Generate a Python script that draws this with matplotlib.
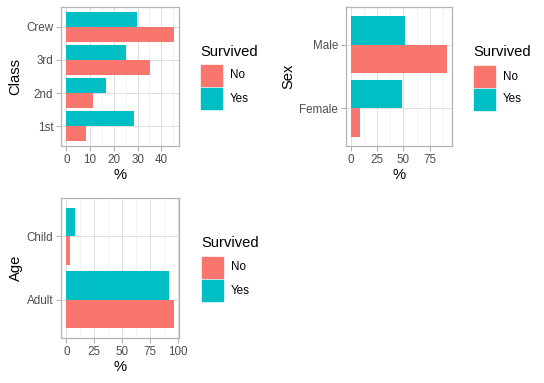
import matplotlib
matplotlib.use("Agg")
import matplotlib.pyplot as plt
from matplotlib.patches import Rectangle
import numpy as np

plt.rcParams['font.family'] = ['Liberation Sans', 'DejaVu Sans']

# Data (percent within Survived group)
class_cats = ["1st", "2nd", "3rd", "Crew"]
class_no = [8.2, 11.2, 35.4, 45.2]
class_yes = [28.6, 16.6, 25.0, 29.8]

sex_cats = ["Female", "Male"]
sex_no = [8.5, 91.5]
sex_yes = [48.4, 51.6]

age_cats = ["Adult", "Child"]
age_no = [96.5, 3.5]
age_yes = [92.0, 8.0]

legend_title = "Survived"
legend_labels = ["No", "Yes"]
colors = ["#F8766D", "#00BFC4"]

W, H = 544, 383
fig = plt.figure(figsize=(W / 100, H / 100), dpi=100)

def fx(x):
    return x / W

def fy(y):
    return 1 - y / H

def make_panel(left, top, right, bottom, cats, no, yes, ylabel, xticks, minor):
    ax = fig.add_axes([fx(left), fy(bottom), fx(right - left), (bottom - top) / H])
    y = np.arange(len(cats))
    ax.barh(y - 0.225, no, height=0.45, color=colors[0], zorder=3)
    ax.barh(y + 0.225, yes, height=0.45, color=colors[1], zorder=3)
    mx = max(max(no), max(yes))
    ax.set_xlim(-0.05 * mx, mx * 1.05)
    ax.set_ylim(-0.6, len(cats) - 1 + 0.6)
    ax.set_yticks(y)
    ax.set_yticklabels(cats)
    ax.set_xticks(xticks)
    ax.set_xticks(minor, minor=True)
    ax.grid(True, which='major', color='#DEDEDE', linewidth=0.7, zorder=0)
    ax.grid(True, which='minor', axis='x', color='#EBEBEB', linewidth=0.45, zorder=0)
    ax.tick_params(axis='both', which='major', length=3.5, width=0.7, color='#B3B3B3',
                   labelsize=8.4, labelcolor='#4D4D4D', pad=2)
    ax.tick_params(which='minor', length=0)
    for s in ax.spines.values():
        s.set_color('#B3B3B3')
        s.set_linewidth(0.9)
    ax.set_xlabel("%", fontsize=10.6, labelpad=2)
    ax.set_ylabel(ylabel, fontsize=10.6, labelpad=3)
    ax.set_axisbelow(True)
    return ax

def make_legend(x, ytitle, ykey1, ykey2, keyh=21, keyw=21):
    fig.text(fx(x - 1), fy(ytitle), legend_title, fontsize=10.6, va='center', ha='left')
    for i, yk in enumerate([ykey1, ykey2]):
        fig.patches.append(Rectangle((fx(x), fy(yk + keyh)), keyw / W, keyh / H,
                                     transform=fig.transFigure, color=colors[i]))
        fig.text(fx(x + keyw + 8), fy(yk + keyh / 2), legend_labels[i], fontsize=8.4,
                 va='center', ha='left')

make_panel(61, 7, 179, 146, class_cats, class_no, class_yes, "Class",
           [0, 10, 20, 30, 40], [5, 15, 25, 35, 45])
make_legend(201, 52, 65, 88)

make_panel(346, 7, 452, 146, sex_cats, sex_no, sex_yes, "Sex",
           [0, 25, 50, 75], [12.5, 37.5, 62.5, 87.5])
make_legend(474, 52, 66, 89)

make_panel(61, 198, 179, 338, age_cats, age_no, age_yes, "Age",
           [0, 25, 50, 75, 100], [12.5, 37.5, 62.5, 87.5])
make_legend(202, 243, 257, 280)

fig.savefig("out.png", dpi=100)
